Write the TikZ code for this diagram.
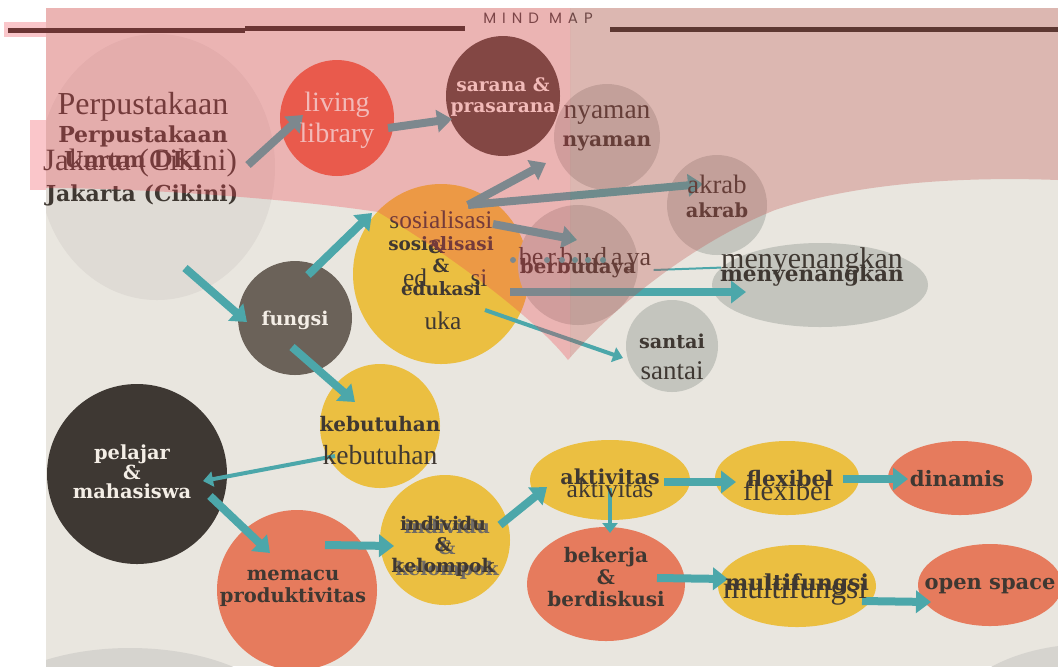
\documentclass[tikz,border=0pt]{standalone}
\usepackage{fontspec}
\setmainfont{Liberation Serif}
\newfontfamily\dejaserif{DejaVu Serif}
\newfontfamily\titlesans{Poppins}[LetterSpace=40]
\usetikzlibrary{arrows.meta,shapes.geometric}
\definecolor{paper}{HTML}{E9E6DF}
\definecolor{haze}{HTML}{DFDBD5}
\definecolor{ash}{HTML}{D6D4CF}
\definecolor{sun}{HTML}{EBBF41}
\definecolor{coral}{HTML}{E67B5D}
\definecolor{stone}{HTML}{C4C5BE}
\definecolor{umber}{HTML}{6B6259}
\definecolor{coal}{HTML}{3E3833}
\definecolor{maroon}{HTML}{54493F}
\definecolor{flame}{HTML}{E6644B}
\definecolor{teal}{HTML}{4CA7AA}
\definecolor{ink}{HTML}{3F3832}
\definecolor{cream}{HTML}{F4EEE6}
\definecolor{rose}{HTML}{F04350}
\definecolor{rosedark}{HTML}{C14D49}
\definecolor{bar}{HTML}{333029}
\definecolor{titleink}{HTML}{4A4745}

\begin{document}
\begin{tikzpicture}[x=0.5pt,y=-0.5pt,
blob/.style={shape=ellipse,draw=none,inner sep=0pt},
sz/.style 2 args={minimum width=#1pt,minimum height=#2pt},
lblB/.style={font={\pgfmathsetmacro\lead{#1*1.12}\dejaserif\bfseries\fontsize{#1}{\lead}\selectfont},text=ink,align=center,inner sep=0pt},
lblR/.style={font={\pgfmathsetmacro\lead{#1*1.12}\fontsize{#1}{\lead}\selectfont},text=ink,align=center,inner sep=0pt},
link/.style={draw=teal,line width=4pt,-{Triangle[length=7.5pt,width=11pt]}},
linkthin/.style={draw=teal,line width=2pt,-{Triangle[length=5pt,width=7.5pt]}}]
\useasboundingbox (0,0) rectangle (1058,666);
\clip (0,0) rectangle (1058,666);

\begin{scope}
\clip (46,8) rectangle (1058,666);
\fill[paper] (46,8) rectangle (1058,666);
\node[blob,sz={118}{133},fill=haze] (perp) at (157,167) {};
\fill[ash] (130,728) ellipse [x radius=80pt,y radius=40pt];
\fill[ash] (1090,728) ellipse [x radius=72pt,y radius=42pt];
\end{scope}

\fill[bar] (8,28) rectangle (245,33);
\fill[bar] (245,26) rectangle (465,31);
\fill[bar] (610,27) rectangle (1058,32);
\node[font=\titlesans\fontsize{7.5}{8}\selectfont,text=titleink] (title) at (538,18) {MIND MAP};

\node[blob,sz={57}{58},fill=flame] (living) at (337,118) {};
\node[blob,sz={53}{53},fill=stone] (nyaman) at (607,137) {};
\node[blob,sz={57}{60},fill=maroon] (sarana) at (503,96) {};
\node[blob,sz={108}{42},fill=stone] (meny) at (820,285) {};
\node[blob,sz={50}{50},fill=stone] (akrab) at (717,205) {};
\node[blob,sz={88}{90},fill=sun] (sos) at (441,274) {};
\node[blob,sz={60}{60},fill=stone] (berb) at (578,265) {};
\node[blob,sz={46}{46},fill=stone] (santai) at (672,346) {};
\node[blob,sz={60}{62},fill=sun] (kebu) at (380,426) {};
\node[blob,sz={57}{57},fill=umber] (fungsi) at (295,318) {};
\node[blob,sz={90}{90},fill=coal] (pelajar) at (137,474) {};
\node[blob,sz={80}{80},fill=coral] (memacu) at (297,590) {};
\node[blob,sz={65}{65},fill=sun] (indiv) at (445,540) {};
\node[blob,sz={80}{40},fill=sun] (aktiv) at (610,480) {};
\node[blob,sz={72}{37},fill=sun] (flex) at (787,478) {};
\node[blob,sz={72}{37},fill=coral] (dinamis) at (960,478) {};
\node[blob,sz={79}{57},fill=coral] (bekerja) at (606,584) {};
\node[blob,sz={79}{41},fill=sun] (multi) at (797,586) {};
\node[blob,sz={72}{41},fill=coral] (open) at (990,585) {};

\draw[link] ([shift={(91,-2)}]perp.center) -- ([shift={(-34,-3)}]living.center);
\draw[link] ([shift={(51,10)}]living.center) -- ([shift={(-51,23)}]sarana.center);
\draw[link] ([shift={(27,-69)}]sos.center) -- ([shift={(-61,26)}]nyaman.center);
\draw[link] ([shift={(27,-69)}]sos.center) -- ([shift={(-14,-21)}]akrab.center);
\draw[link] ([shift={(52,-50)}]sos.center) -- ([shift={(-1,-25)}]berb.center);
\draw[link] ([shift={(69,18)}]sos.center) -- ([shift={(-74,7)}]meny.center);
\draw[linkthin] ([shift={(44,36)}]sos.center) -- ([shift={(-49,12)}]santai.center);
\draw[link] ([shift={(28,101)}]perp.center) -- ([shift={(-48,4)}]fungsi.center);
\draw[link] ([shift={(13,-43)}]fungsi.center) -- ([shift={(-69,-61)}]sos.center);
\draw[link] ([shift={(-3,29)}]fungsi.center) -- ([shift={(-25,-24)}]kebu.center);
\draw[linkthin] ([shift={(-45,30)}]kebu.center) -- ([shift={(66,7)}]pelajar.center);
\draw[link] ([shift={(73,22)}]pelajar.center) -- ([shift={(-27,-37)}]memacu.center);
\draw[link] ([shift={(28,-45)}]memacu.center) -- ([shift={(-51,6)}]indiv.center);
\draw[link] ([shift={(55,-15)}]indiv.center) -- ([shift={(-63,7)}]aktiv.center);
\draw[linkthin] ([shift={(0,8)}]aktiv.center) -- ([shift={(4,-51)}]bekerja.center);
\draw[link] ([shift={(54,2)}]aktiv.center) -- ([shift={(-51,4)}]flex.center);
\draw[link] ([shift={(56,1)}]flex.center) -- ([shift={(-52,1)}]dinamis.center);
\draw[link] ([shift={(51,-6)}]bekerja.center) -- ([shift={(-69,-7)}]multi.center);
\draw[link] ([shift={(65,15)}]multi.center) -- ([shift={(-59,17)}]open.center);

\node[lblR=16] (tPerpR) at (143,107) {Perpustakaan};
\node[lblB=11] (tPerpB) at (143,136) {Perpustakaan};
\node[lblB=11] (tUmum) at (133,160) {Umum DKI};
\node[lblR=15.5] (tJakR) at (140,163) {Jakarta (Cikini)};
\node[lblB=11] (tJakB) at (142,195) {Jakarta (Cikini)};
\node[lblR=14,text=cream] (tLiving) at (337,120) {living\\library};
\node[lblB=9.3,text=cream] (tSarana) at (503,97) {sarana \&\\prasarana};
\node[lblR=13.7] (tNyamanR) at (607,115) {nyaman};
\node[lblB=10.1] (tNyamanB) at (607,143) {nyaman};
\node[lblR=13.3] (tAkrabR) at (717,184) {akrab};
\node[lblB=9.7] (tAkrabB) at (717,210) {akrab};
\node[lblR=12.7] (tSosR) at (441,220) {sosialisasi};
\node[lblB=9.2] (tSosB) at (441,266) {sosialisasi\\[1pt]\&\\[1pt]edukasi};
\node[lblB=9.2] (tSosAmp) at (437,247) {\&};
\node[lblR=12.7] (tEd) at (415,278) {ed};
\node[lblR=12.7] (tSi) at (479,278) {si};
\node[lblR=12.7] (tUka) at (443,321) {uka};
\node[lblR=13] (tBerbR) at (585,259) {be\kern2pt r\kern2pt b\kern2pt u\kern2pt d\kern2pt a\kern2pt ya};
\node[lblB=9.9] (tBerbB) at (578,268) {berbudaya};
\foreach \dx in {513,547,562,575,588,603}
  \fill[teal] (\dx,260) circle (1.5pt);
\draw[teal,line width=1pt] ([shift={(2,11)}]tBerbR.east) -- (meny.170);
\node[lblR=15] (tMenyR) at (812,261) {menyenangkan};
\node[lblB=10.8] (tMenyB) at (812,276) {menyenangkan};
\node[lblB=9.6] (tSantaiB) at (672,341) {santai};
\node[lblR=13.5] (tSantaiR) at (672,371) {santai};
\node[lblB=9.5,text=cream] (tFungsi) at (295,320) {fungsi};
\node[lblB=10] (tKebuB) at (380,424) {kebutuhan};
\node[lblR=13.8] (tKebuR) at (380,455) {kebutuhan};
\node[lblB=9.7,text=cream] (tPelajar) at (132,472) {pelajar\\[-1pt]\&\\[-1pt]mahasiswa};
\node[lblB=9.75] (tMemacu) at (293,588) {memacu\\produktivitas};
\node[lblB=9.4,text=ink!75] (tIndivB2) at (447,549) {individu\\\&\\kelompok};
\node[lblB=9.4] (tIndivB) at (443,546) {individu\\\&\\kelompok};
\node[lblR=12.8] (tAktivR) at (610,489) {aktivitas};
\node[lblB=10.3] (tAktivB) at (610,477) {aktivitas};
\node[lblR=14.4] (tFlexR) at (787,490) {flexibel};
\node[lblB=10.7] (tFlexB) at (790,479) {flexibel};
\node[lblB=10.6] (tDinamis) at (957,479) {dinamis};
\node[lblB=10] (tBekerja) at (606,577) {bekerja\\\&\\berdiskusi};
\node[lblR=15.6] (tMultiR) at (795,591) {multifungsi};
\node[lblB=11] (tMultiB) at (797,585) {multifungsi};
\node[lblB=10.5] (tOpen) at (990,586) {open space};

\begin{scope}
\clip (0,0) rectangle (570,666);
\fill[rose,fill opacity=0.3] (46,8) -- (1058,8) -- (1058,180) .. controls (950,176) and (850,185) .. (775,210) .. controls (700,240) and (620,300) .. (568,360) .. controls (535,318) and (450,255) .. (378,212) .. controls (300,200) and (150,188) .. (46,188) -- cycle;
\end{scope}
\begin{scope}
\clip (570,0) rectangle (1058,666);
\fill[rosedark,fill opacity=0.3] (46,8) -- (1058,8) -- (1058,180) .. controls (950,176) and (850,185) .. (775,210) .. controls (700,240) and (620,300) .. (568,360) .. controls (535,318) and (450,255) .. (378,212) .. controls (300,200) and (150,188) .. (46,188) -- cycle;
\end{scope}
\fill[rose,fill opacity=0.3] (4,22) rectangle (46,37);
\fill[rose,fill opacity=0.3] (30,120) rectangle (46,190);
\end{tikzpicture}
\end{document}
